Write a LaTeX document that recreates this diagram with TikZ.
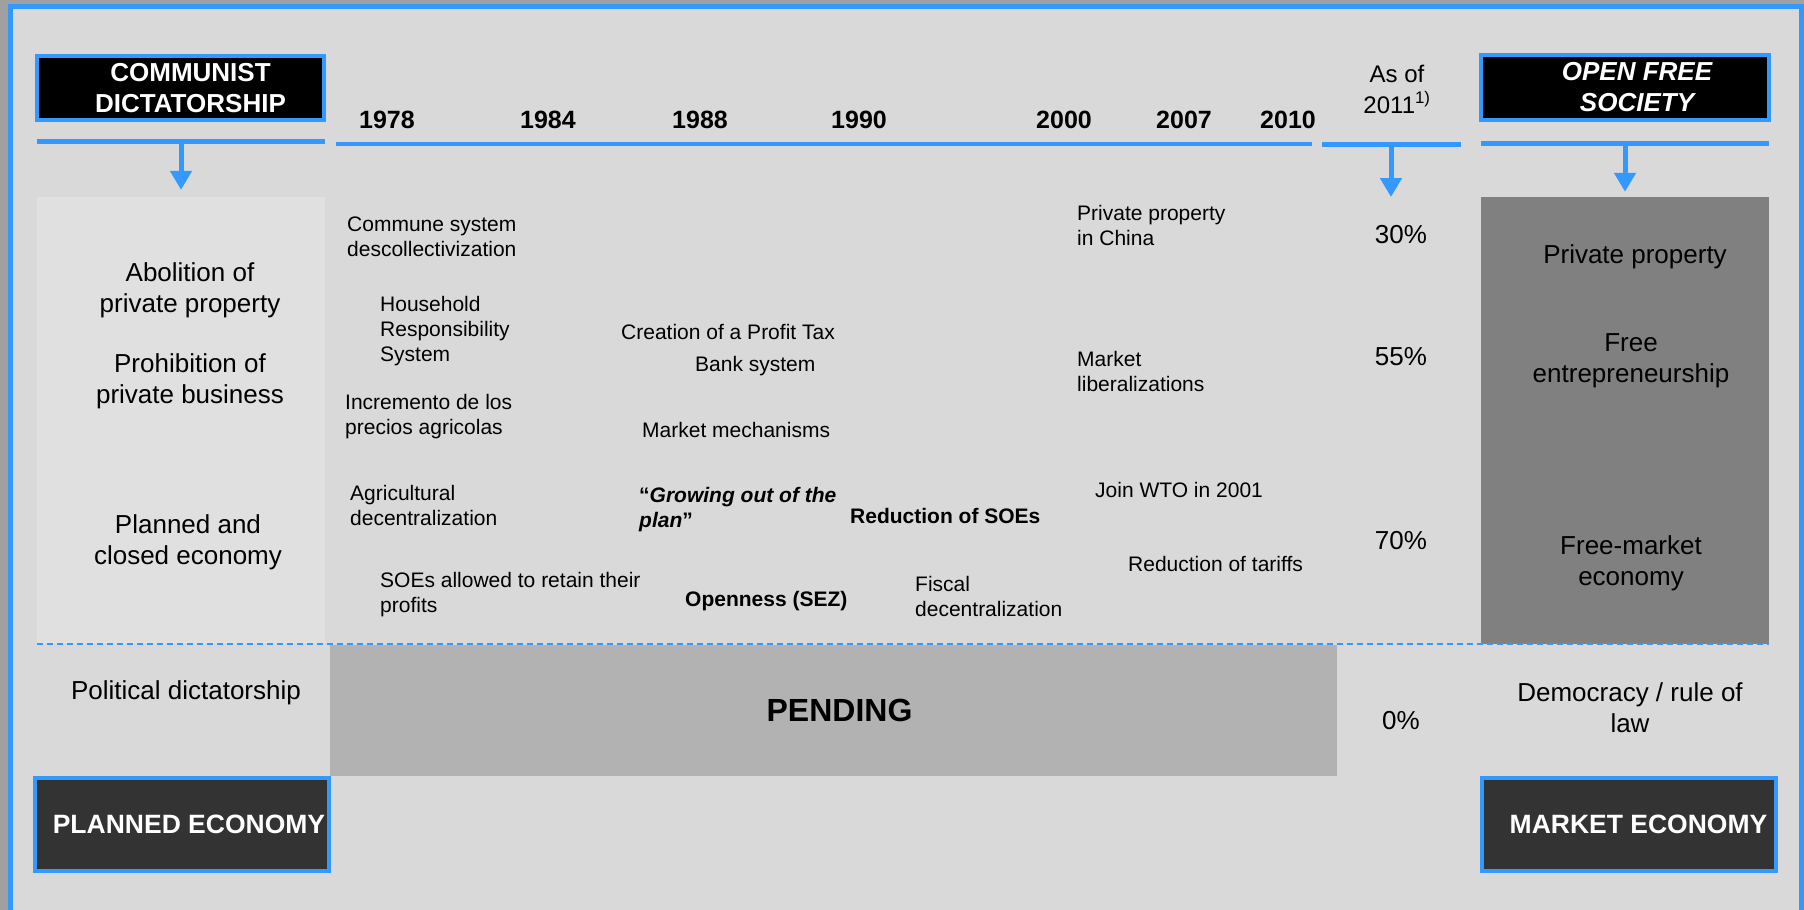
\documentclass[tikz,border=0pt]{standalone}
\usepackage{fontspec}
\setmainfont{Liberation Sans}
\usetikzlibrary{positioning, arrows.meta}

\definecolor{frameblue}{RGB}{51,153,255}
\definecolor{bggray}{RGB}{217,217,217}
\definecolor{edgegray}{RGB}{160,160,160}
\definecolor{palegray}{RGB}{224,224,224}
\definecolor{darkpanel}{RGB}{128,128,128}
\definecolor{pendgray}{RGB}{178,178,178}
\definecolor{footgray}{RGB}{51,51,51}
\newcommand{\medtxt}{\fontsize{21}{25}\selectfont}
\newcommand{\bigtxt}{\fontsize{26}{31}\selectfont}

\begin{document}
\begin{tikzpicture}[x=1pt, y=-1pt, node distance=25pt]
        \tikzstyle{headbox}=[draw=frameblue, line width=4pt, fill=black, text=white, font=\bigtxt\bfseries, align=center, minimum width=287pt, minimum height=64pt, inner sep=0pt];
        \tikzstyle{footbox}=[draw=frameblue, line width=3.5pt, fill=footgray, text=white, font=\fontsize{26.5}{31}\selectfont\bfseries, minimum width=294pt, minimum height=93pt, inner sep=0pt];
        \tikzstyle{blueline}=[fill=frameblue, inner sep=0pt, minimum height=5pt];
        \tikzstyle{panel}=[inner sep=0pt, minimum width=288pt, minimum height=447pt];
        \tikzstyle{evtext}=[font=\medtxt, align=left, anchor=base west, inner sep=0pt];
        \tikzstyle{paneltext}=[font=\bigtxt, align=center, anchor=base, inner sep=0pt];
        \tikzstyle{yearlbl}=[font=\fontsize{25}{30}\selectfont\bfseries, anchor=base, inner sep=0pt];
        \tikzstyle{pctlbl}=[font=\bigtxt, anchor=base, inner sep=0pt];
        \tikzstyle{downarrow}=[-{Triangle[width=21pt,length=19pt]}, draw=frameblue, line width=5pt];

        \useasboundingbox (0,0) rectangle (1804,910);
        % frame
        \fill[edgegray] (0,0) rectangle (1804,910);
        \fill[bggray] (10,6) rectangle (1801,915);
        \draw[frameblue, line width=5pt] (10,915) |- (1801,6) -- (1801,915);

        % heads and bars
        \node[headbox] (communist) at (180.5,88) {\hspace*{20pt}COMMUNIST\\\hspace*{20pt}DICTATORSHIP};
        \node[headbox, font=\bigtxt\bfseries\itshape, minimum width=288pt, minimum height=65pt] (openfree) at (1625,87.5) {\hspace*{24pt}OPEN FREE\\\hspace*{24pt}SOCIETY};
        \node[blueline, minimum width=288pt] (leftbar) at (181,141.5) {};
        \node[blueline, minimum width=976pt, minimum height=4pt] (timeline) at (824,144) {};
        \node[blueline, minimum width=139pt] (nowbar) at (1391,144.5) {};
        \node[blueline, minimum width=288pt] (rightbar) at (1625,143) {};
        \coordinate (nowtip) at (1391,197);

        \node[yearlbl] (y1978) at (387,128) {1978};
        \node[yearlbl] (y1984) at (548,128) {1984};
        \node[yearlbl] (y1988) at (700,128) {1988};
        \node[yearlbl] (y1990) at (859,128) {1990};
        \node[yearlbl] (y2000) at (1064,128) {2000};
        \node[yearlbl] (y2007) at (1184,128) {2007};
        \node[yearlbl] (y2010) at (1288,128) {2010};
        \node[paneltext, font=\fontsize{24}{31}\selectfont] (asof) at (1397,113) {As of\\2011\textsuperscript{1)}};

        % panels
        \node[panel, fill=palegray] (leftpanel) at (181,420.5) {};
        \node[panel, fill=darkpanel] (rightpanel) at (1625,420.5) {};
        \node[fill=pendgray, inner sep=0pt, minimum width=1007pt, minimum height=131pt, font=\fontsize{32}{38}\selectfont\bfseries] (pending) at (833.5,710.5) {\hspace*{12pt}PENDING};
        \draw[frameblue, line width=1.5pt, dash pattern=on 6pt off 4pt] (leftpanel.south west) -- (rightpanel.south east);

        \node[paneltext] (abolition) at (190,312) {Abolition of\\private property};
        \node[paneltext] (prohibition) at (190,403) {Prohibition of\\private business};
        \node[paneltext] (plannedclosed) at (188,564) {Planned and\\closed economy};
        \node[paneltext] (politdict) at (186,699) {Political dictatorship};

        \node[paneltext] (privprop) at (1635,263) {Private property};
        \node[paneltext] (freeentr) at (1631,382) {Free\\entrepreneurship};
        \node[paneltext] (freemkt) at (1631,585) {Free-market\\economy};
        \node[paneltext] (democracy) at (1630,732) {Democracy / rule of\\law};

        \node[pctlbl] (p30) at (1401,243) {30\%};
        \node[pctlbl] (p55) at (1401,365) {55\%};
        \node[pctlbl] (p70) at (1401,549) {70\%};
        \node[pctlbl] (p0) at (1401,729) {0\%};

        % reforms
        \node[evtext] (commune) at (347,256) {Commune system\\descollectivization};
        \node[evtext] (household) at (380,361) {Household\\Responsibility\\System};
        \node[evtext] (incremento) at (345,434) {Incremento de los\\precios agricolas};
        \node[evtext] (agridec) at (350,525) {Agricultural\\decentralization};
        \node[evtext] (soeprofit) at (380,612) {SOEs allowed to retain their\\profits};
        \node[evtext] (profittax) at (621,339) {Creation of a Profit Tax};
        \node[evtext] (banksys) at (695,371) {Bank system};
        \node[evtext] (mechanisms) at (642,437) {Market mechanisms};
        \node[evtext, font=\medtxt\bfseries] (growing) at (639,527) {“\textit{Growing out of the}\\\textit{plan}”};
        \node[evtext, font=\medtxt\bfseries] (redsoes) at (850,523) {Reduction of SOEs};
        \node[evtext, font=\medtxt\bfseries] (openness) at (685,606) {Openness (SEZ)};
        \node[evtext] (fiscal) at (915,616) {Fiscal\\decentralization};
        \node[evtext] (privchina) at (1077,245) {Private property\\in China};
        \node[evtext] (mktlib) at (1077,391) {Market\\liberalizations};
        \node[evtext] (wto) at (1095,497) {Join WTO in 2001};
        \node[evtext] (tariffs) at (1128,571) {Reduction of tariffs};

        % outcomes
        \node[footbox] (plannedeco) at (182,824.5) {\hspace*{14pt}PLANNED ECONOMY};
        \node[footbox] (marketeco) at (1629,824.5) {\hspace*{19pt}MARKET ECONOMY};

        \path
        (leftbar.south) edge[downarrow, shorten >=7pt] (leftpanel.north)
        (nowbar.south) edge[downarrow] (nowtip)
        (rightbar.south) edge[downarrow, shorten >=5pt] (rightpanel.north);
\end{tikzpicture}
\end{document}
